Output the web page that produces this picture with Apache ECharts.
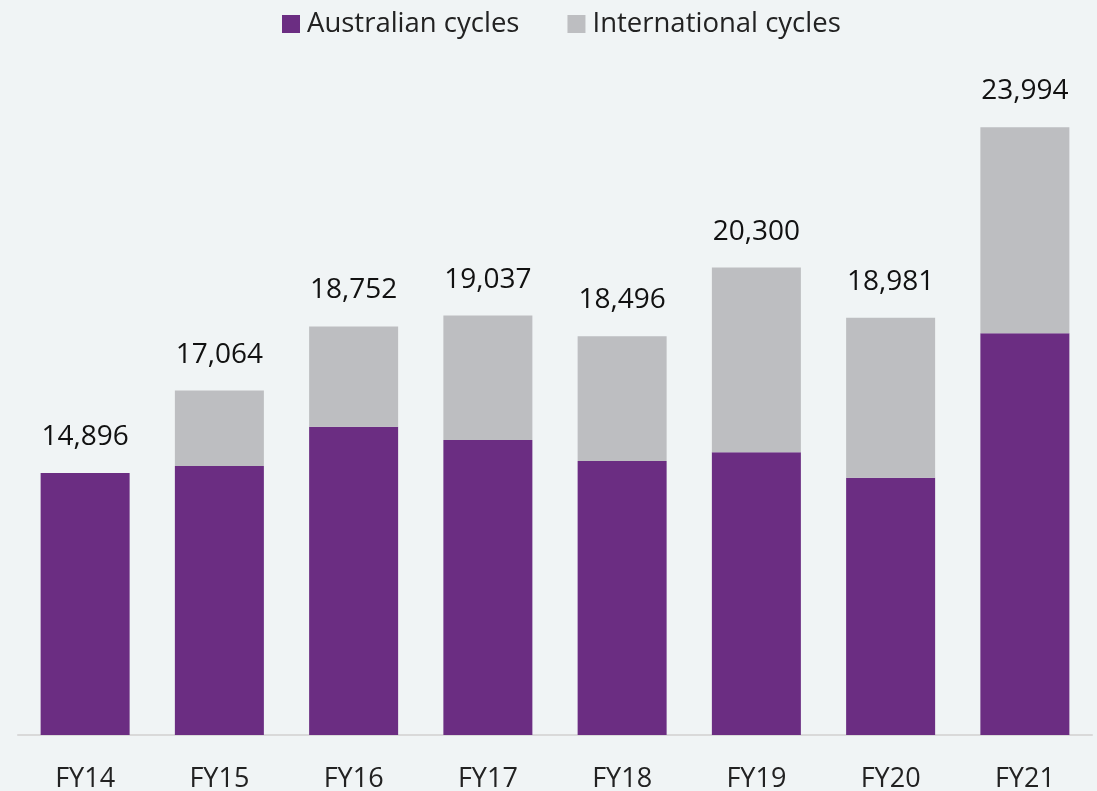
<!DOCTYPE html>
<html>
<head>
<meta charset="utf-8">
<style>
  html, body { margin: 0; padding: 0; background: #f0f4f5; }
  #chart { width: 1097px; height: 791px; }
</style>
<script src="https://cdn.jsdelivr.net/npm/echarts@6/dist/echarts.min.js"></script>
</head>
<body>
<div id="chart"></div>
<script>
// Dados
const years = ['FY14', 'FY15', 'FY16', 'FY17', 'FY18', 'FY19', 'FY20', 'FY21'];
const totals = [14896, 17064, 18752, 19037, 18496, 20300, 18981, 23994];
const australian = [14896, 15076, 16110, 15760, 15208, 15440, 14770, 18575];
const international = totals.map((t, i) => t - australian[i]);

const COLOR_PURPLE = '#6b2d82';
const COLOR_GREY = '#bdbec1';
const FONT = '"Open Sans", sans-serif';

const chart = echarts.init(document.getElementById('chart'));
chart.setOption({
  backgroundColor: '#f0f4f5',
  animation: false,
  legend: {
    top: 5,
    left: 277,
    itemWidth: 18,
    itemHeight: 18,
    itemGap: 48,
    icon: 'rect',
    textStyle: { fontFamily: FONT, fontSize: 27.5, color: '#222', padding: [0, 0, 0, 2] }
  },
  grid: { left: 18, right: 5, top: 51, bottom: 56, outerBoundsMode: 'none', containLabel: false },
  xAxis: {
    type: 'category',
    data: years,
    axisLine: { lineStyle: { color: '#d9d9d9', width: 2 } },
    axisTick: { show: false },
    axisLabel: { fontFamily: FONT, fontSize: 27, color: '#222', margin: 31 }
  },
  yAxis: {
    type: 'value',
    min: 8000,
    max: 26000,
    show: false,
    splitLine: { show: false }
  },
  series: [
    {
      name: 'Australian cycles',
      type: 'bar',
      stack: 'cycles',
      barWidth: 89,
      data: australian,
      itemStyle: { color: COLOR_PURPLE }
    },
    {
      name: 'International cycles',
      type: 'bar',
      stack: 'cycles',
      barWidth: 89,
      data: international,
      itemStyle: { color: COLOR_GREY },
      label: {
        show: true,
        position: 'top',
        distance: 22,
        fontFamily: FONT,
        fontSize: 28,
        color: '#111',
        formatter: p => totals[p.dataIndex].toLocaleString('en-US')
      }
    }
  ]
});
</script>
</body>
</html>
